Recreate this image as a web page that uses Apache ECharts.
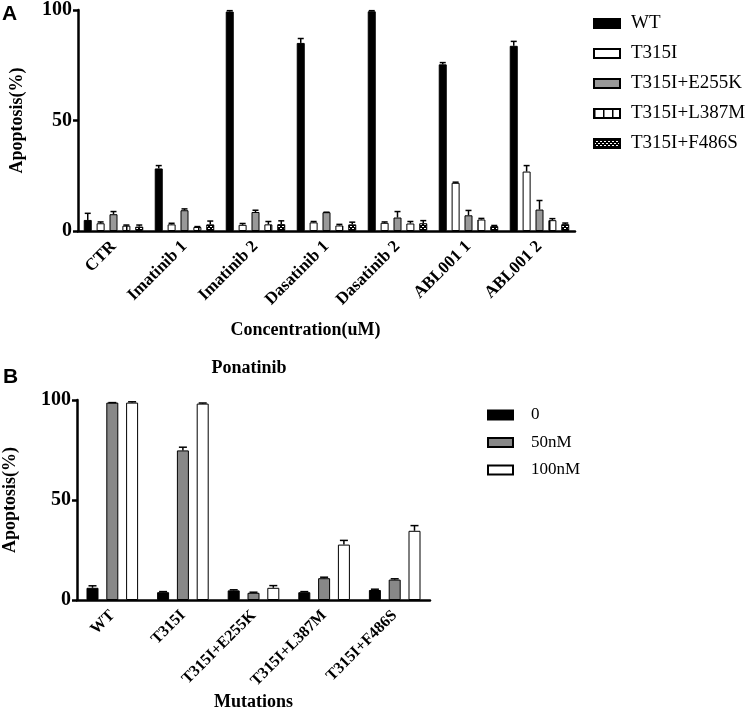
<!DOCTYPE html>
<html>
<head>
<meta charset="utf-8">
<script src="https://cdn.jsdelivr.net/npm/echarts@6.0.0/dist/echarts.min.js"></script>
<style>
html, body { margin: 0; padding: 0; background: #fff; }
#chart { width: 747px; height: 712px; }
</style>
</head>
<body>
<div id="chart"></div>
<script>
// panel A: apoptosis by drug / mutation
var catsA = ['CTR', 'Imatinib 1', 'Imatinib 2', 'Dasatinib 1', 'Dasatinib 2', 'ABL001 1', 'ABL001 2'];
var namesA = ['WT', 'T315I', 'T315I+E255K', 'T315I+L387M', 'T315I+F486S'];
var wt       = [5.0, 28.3, 99.3, 85.1, 99.4, 75.4, 83.8];
var wtErr    = [3.0, 1.3, 0.4, 2.0, 0.3, 0.8, 2.0];
var t315i    = [3.5, 3.0, 2.8, 3.9, 3.7, 21.8, 26.9];
var t315iErr = [0.6, 0.5, 0.6, 0.4, 0.4, 0.3, 2.7];
var e255k    = [7.6, 9.4, 8.6, 8.5, 6.1, 7.1, 9.7];
var e255kErr = [1.2, 0.6, 0.8, 0.0, 2.7, 2.2, 4.1];
var l387m    = [2.4, 1.8, 3.0, 2.5, 3.4, 5.2, 4.9];
var l387mErr = [0.3, 0.2, 1.3, 0.5, 0.9, 0.5, 0.7];
var f486s    = [2.0, 3.0, 3.1, 3.0, 3.5, 2.2, 3.1];
var f486sErr = [0.7, 1.5, 1.5, 1.0, 1.2, 0.3, 0.5];

// panel B: ponatinib doses
var catsB = ['WT', 'T315I', 'T315I+E255K', 'T315I+L387M', 'T315I+F486S'];
var namesB = ['0', '50nM', '100nM'];
var pon0      = [6.1, 3.9, 4.8, 3.9, 5.0];
var pon0Err   = [1.0, 0.3, 0.3, 0.3, 0.4];
var pon50     = [98.7, 74.8, 3.6, 10.9, 10.2];
var pon50Err  = [0.0, 1.6, 0.3, 0.5, 0.4];
var pon100    = [98.7, 98.2, 6.1, 27.7, 34.6];
var pon100Err = [0.4, 0.3, 1.1, 2.1, 2.6];

var serif = 'Liberation Serif';

function stripes() {
  var c = document.createElement('canvas');
  c.width = 9; c.height = 4;
  var g = c.getContext('2d');
  g.fillStyle = '#fff'; g.fillRect(0, 0, 9, 4);
  g.fillStyle = '#000'; g.fillRect(0, 0, 1.5, 4);
  return { image: c, repeat: 'repeat' };
}
function checker() {
  var c = document.createElement('canvas');
  c.width = 4; c.height = 4;
  var g = c.getContext('2d');
  g.fillStyle = '#000'; g.fillRect(0, 0, 4, 4);
  g.fillStyle = '#fff'; g.fillRect(0, 0, 2, 1); g.fillRect(2, 2, 2, 1);
  return { image: c, repeat: 'repeat' };
}

function bar(name, vals, fill, xi, bw, gap) {
  return {
    name: name, type: 'bar', xAxisIndex: xi, yAxisIndex: xi,
    data: vals, barWidth: bw, barGap: gap, z: 3,
    itemStyle: { color: fill, borderColor: '#000', borderWidth: 1 }
  };
}

function errBar(vals, errs, xi, idx, n, step, cap) {
  return {
    type: 'custom', xAxisIndex: xi, yAxisIndex: xi, silent: true, z: 4,
    data: vals.map(function (v, i) { return [i, v, errs[i]]; }),
    encode: { x: 0, y: 1 },
    renderItem: function (params, api) {
      var c = api.coord([api.value(0), api.value(1)]);
      var t = api.coord([api.value(0), api.value(1) + api.value(2)]);
      var x = c[0] + (idx - (n - 1) / 2) * step;
      return {
        type: 'group', children: [
          { type: 'line', shape: { x1: x, y1: c[1], x2: x, y2: t[1] }, style: { stroke: '#000', lineWidth: 1.5 } },
          { type: 'line', shape: { x1: x - cap, y1: t[1], x2: x + cap, y2: t[1] }, style: { stroke: '#000', lineWidth: 1.5 } }
        ]
      };
    }
  };
}

var bwA = 8, bwB = 12;
var stepA = bwA * 1.61, stepB = bwB * 1.65;

function yAxis(gi, gap) {
  return {
    type: 'value', gridIndex: gi, min: 0, max: 100, interval: 50,
    name: 'Apoptosis(%)', nameLocation: 'middle', nameGap: gap,
    nameTextStyle: { fontFamily: serif, fontWeight: 'bold', fontSize: 18, color: '#000' },
    splitLine: { show: false },
    axisLine: { show: true, lineStyle: { color: '#000', width: 2.5 } },
    axisTick: { show: true, length: 5, lineStyle: { color: '#000', width: 2.5 } },
    axisLabel: { fontFamily: serif, fontWeight: 'bold', fontSize: 20, color: '#000', margin: 6 }
  };
}
function xAxis(gi, cats, name, gap, pad, fs) {
  return {
    type: 'category', gridIndex: gi, data: cats,
    name: name, nameLocation: 'middle', nameGap: gap,
    nameTextStyle: { fontFamily: serif, fontWeight: 'bold', fontSize: 18, color: '#000', padding: pad },
    axisLine: { lineStyle: { color: '#000', width: 2.5 } },
    axisTick: { alignWithLabel: true, length: 7, lineStyle: { color: '#000', width: 2.5 } },
    axisLabel: { interval: 0, rotate: 45, fontFamily: serif, fontWeight: 'bold', fontSize: fs, color: '#000', margin: 13 }
  };
}

var chart = echarts.init(document.getElementById('chart'));
chart.setOption({
  animation: false,
  backgroundColor: '#fff',
  grid: [
    { left: 61, top: 7, width: 514, height: 224 },
    { left: 71, top: 400, width: 359, height: 202 }
  ],
  xAxis: [
    xAxis(0, catsA, 'Concentration(uM)', 90, [0, 42, 0, 0], 17),
    xAxis(1, catsB, 'Mutations', 93, 0, 16)
  ],
  yAxis: [yAxis(0, 52), yAxis(1, 58)],
  legend: [
    {
      data: namesA, orient: 'vertical', left: 588, top: 9,
      itemWidth: 26, itemHeight: 9, itemGap: 11, icon: 'rect',
      textStyle: { fontFamily: serif, fontSize: 19, color: '#000', lineHeight: 19, padding: [0, 0, 0, 6] }
    },
    {
      data: namesB, orient: 'vertical', left: 482, top: 401,
      itemWidth: 25, itemHeight: 9, itemGap: 9.5, icon: 'rect',
      textStyle: { fontFamily: serif, fontSize: 17, color: '#000', lineHeight: 18, padding: [0, 0, 0, 13] }
    }
  ],
  graphic: [
    { type: 'text', left: 2, top: 4, style: { text: 'A', font: 'bold 21px "Liberation Sans"', fill: '#000' } },
    { type: 'text', left: 3, top: 367, style: { text: 'B', font: 'bold 21px "Liberation Sans"', fill: '#000' } },
    { type: 'text', x: 249, y: 368, style: { text: 'Ponatinib', font: 'bold 18px "Liberation Serif"', fill: '#000', align: 'center', verticalAlign: 'middle' } }
  ],
  series: [
    bar('WT', wt, '#000', 0, bwA, '61%'),
    bar('T315I', t315i, '#fff', 0, bwA, '61%'),
    bar('T315I+E255K', e255k, '#999', 0, bwA, '61%'),
    bar('T315I+L387M', l387m, stripes(), 0, bwA, '61%'),
    bar('T315I+F486S', f486s, checker(), 0, bwA, '61%'),
    errBar(wt, wtErr, 0, 0, 5, stepA, 3),
    errBar(t315i, t315iErr, 0, 1, 5, stepA, 3),
    errBar(e255k, e255kErr, 0, 2, 5, stepA, 3),
    errBar(l387m, l387mErr, 0, 3, 5, stepA, 3),
    errBar(f486s, f486sErr, 0, 4, 5, stepA, 3),
    bar('0', pon0, '#000', 1, bwB, '65%'),
    bar('50nM', pon50, '#888', 1, bwB, '65%'),
    bar('100nM', pon100, '#fff', 1, bwB, '65%'),
    errBar(pon0, pon0Err, 1, 0, 3, stepB, 4),
    errBar(pon50, pon50Err, 1, 1, 3, stepB, 4),
    errBar(pon100, pon100Err, 1, 2, 3, stepB, 4)
  ]
});
</script>
</body>
</html>
